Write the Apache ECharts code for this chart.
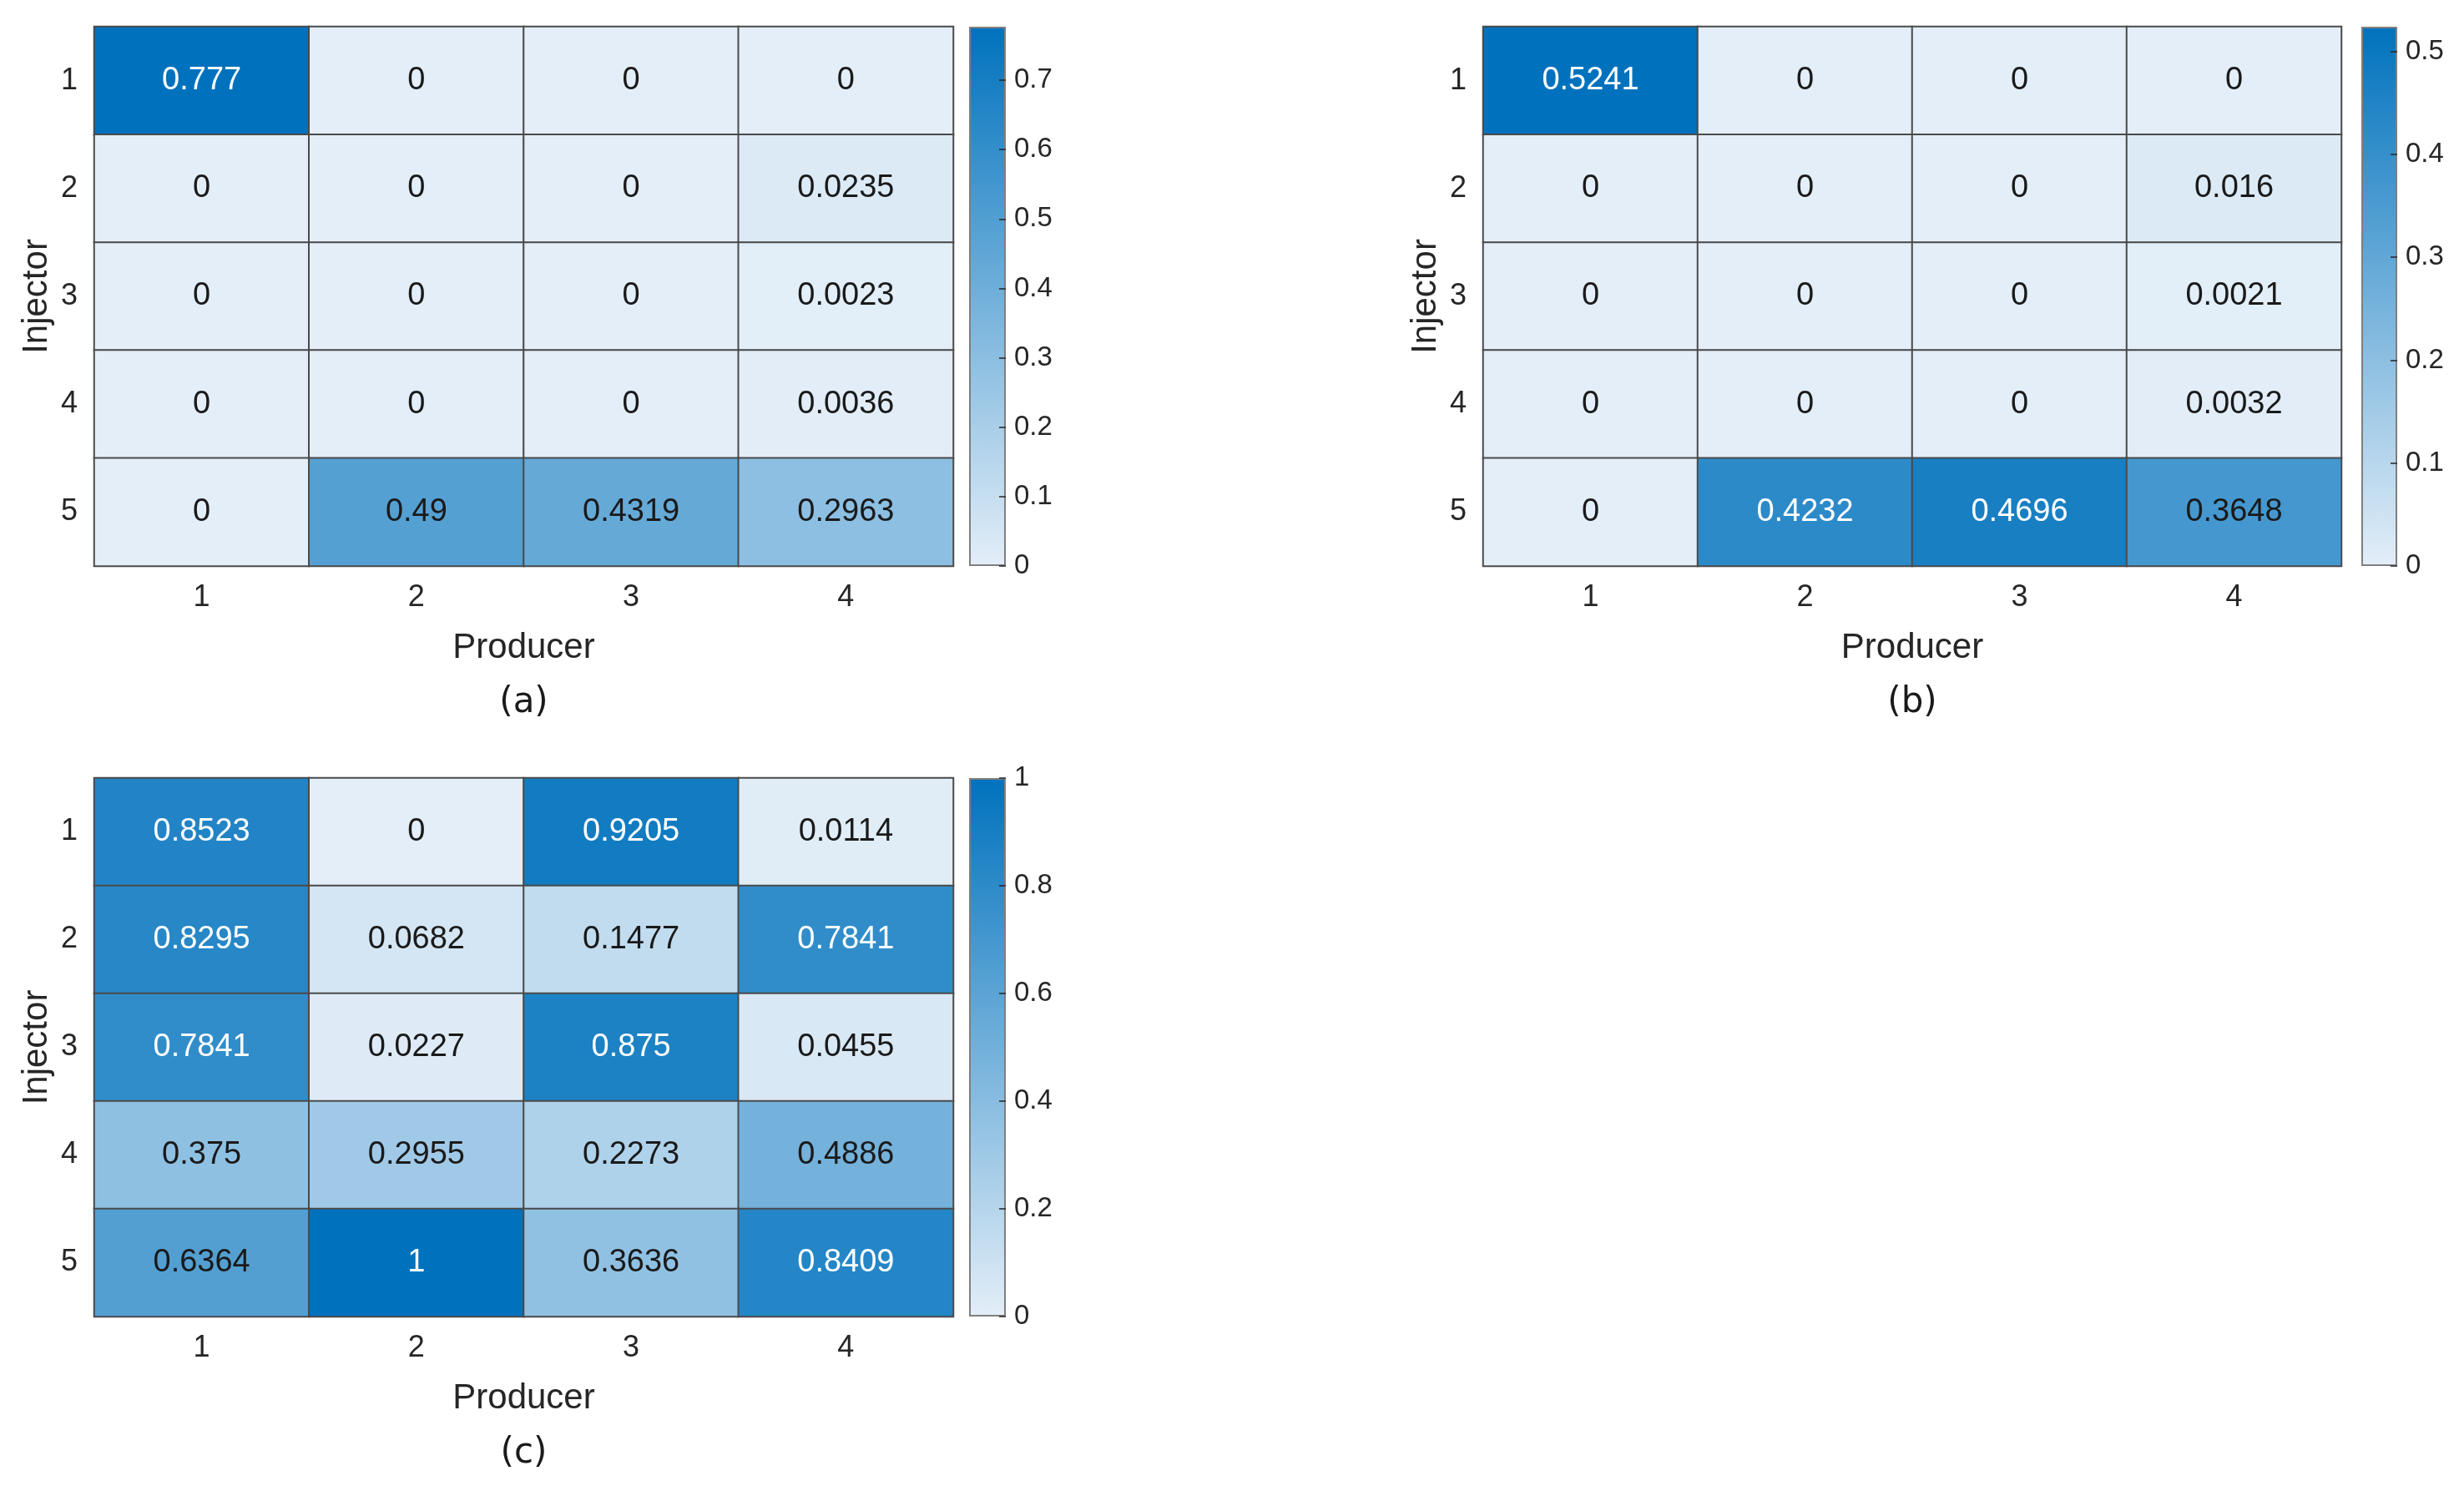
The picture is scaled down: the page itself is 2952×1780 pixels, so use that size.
<!DOCTYPE html>
<html>
<head>
<meta charset="utf-8">
<title>Injector-Producer connectivity</title>
<script src="https://cdn.jsdelivr.net/npm/echarts@6/dist/echarts.min.js"></script>
<style>
  html, body { margin: 0; padding: 0; background: #fff; }
  #chart { width: 2952px; height: 1780px; }
</style>
</head>
<body>
<div id="chart"></div>
<script>
// categories
const producers = ['1', '2', '3', '4'];
const injectors = ['1', '2', '3', '4', '5'];

// values, one row per injector, one column per producer
const valuesA = [
  [0.777, 0, 0, 0],
  [0, 0, 0, 0.0235],
  [0, 0, 0, 0.0023],
  [0, 0, 0, 0.0036],
  [0, 0.49, 0.4319, 0.2963]
];
const valuesB = [
  [0.5241, 0, 0, 0],
  [0, 0, 0, 0.016],
  [0, 0, 0, 0.0021],
  [0, 0, 0, 0.0032],
  [0, 0.4232, 0.4696, 0.3648]
];
const valuesC = [
  [0.8523, 0, 0.9205, 0.0114],
  [0.8295, 0.0682, 0.1477, 0.7841],
  [0.7841, 0.0227, 0.875, 0.0455],
  [0.375, 0.2955, 0.2273, 0.4886],
  [0.6364, 1, 0.3636, 0.8409]
];

// colorbar tick steps
const cbarSteps = [0.1, 0.1, 0.2];
const panelLetters = ['(a)', '(b)', '(c)'];

const LIGHT = '#e3eef8';
const DARK = '#0072bd';
const FONT = '"Liberation Sans", Arial, sans-serif';

// panel placement (pixels)
const panels = [
  { values: valuesA, left: 113, top: 32, w: 1029, h: 646, cbLeft: 1161, cbW: 44 },
  { values: valuesB, left: 1777, top: 32, w: 1028, h: 646, cbLeft: 2829, cbW: 43 },
  { values: valuesC, left: 113, top: 932, w: 1029, h: 645, cbLeft: 1161, cbW: 44 }
];

const chart = echarts.init(document.getElementById('chart'));

const grid = [], xAxis = [], yAxis = [], series = [], visualMap = [], graphic = [];

panels.forEach((p, i) => {
  const maxVal = Math.max(...p.values.flat());
  // is the top of the colorbar on a tick step?
  const ratio = maxVal / cbarSteps[i];
  const maxOnTick = Math.abs(ratio - Math.round(ratio)) < 1e-6;

  // heatmap grid
  grid.push({ left: p.left, top: p.top, width: p.w, height: p.h });
  // colorbar grid
  grid.push({ left: p.cbLeft, top: p.top, width: p.cbW, height: p.h });

  xAxis.push({
    type: 'category', gridIndex: i * 2, data: producers,
    axisTick: { show: false }, axisLine: { show: false },
    axisLabel: { fontSize: 36, color: '#262626', margin: 20, fontFamily: FONT },
    name: 'Producer', nameLocation: 'middle', nameGap: 77,
    nameTextStyle: { fontSize: 42, color: '#262626', fontFamily: FONT }
  });
  xAxis.push({ type: 'category', gridIndex: i * 2 + 1, data: [''], show: false });

  yAxis.push({
    type: 'category', gridIndex: i * 2, data: injectors, inverse: true,
    axisTick: { show: false }, axisLine: { show: false },
    axisLabel: { fontSize: 36, color: '#262626', margin: 20, fontFamily: FONT },
    name: 'Injector', nameLocation: 'middle', nameGap: 48, nameRotate: 90,
    nameTextStyle: { fontSize: 42, color: '#262626', fontFamily: FONT }
  });
  yAxis.push({
    type: 'value', gridIndex: i * 2 + 1, position: 'right', z: 5,
    min: 0, max: maxVal, interval: cbarSteps[i],
    splitLine: { show: false },
    axisLine: { show: false },
    axisTick: { show: true, inside: true, length: 8, lineStyle: { color: '#262626', width: 1.5 } },
    axisLabel: {
      fontSize: 33, color: '#262626', margin: 10, fontFamily: FONT,
      showMaxLabel: maxOnTick
    }
  });

  // cells
  const data = [];
  p.values.forEach((row, r) => {
    row.forEach((v, c) => {
      data.push({
        value: [c, r, v],
        label: { color: v / maxVal > 0.75 ? '#ffffff' : '#1a1a1a' }
      });
    });
  });

  series.push({
    type: 'heatmap', xAxisIndex: i * 2, yAxisIndex: i * 2, data: data,
    itemStyle: { borderColor: '#4a4a4a', borderWidth: 2 },
    label: {
      show: true, fontSize: 38, fontFamily: FONT,
      formatter: d => String(d.value[2])
    },
    emphasis: { disabled: true }
  });

  // colorbar as a single gradient bar on its own axis
  series.push({
    type: 'bar', xAxisIndex: i * 2 + 1, yAxisIndex: i * 2 + 1, z: 1,
    data: [maxVal], barWidth: '100%', silent: true,
    itemStyle: {
      color: new echarts.graphic.LinearGradient(0, 0, 0, 1, [
        { offset: 0, color: DARK }, { offset: 1, color: LIGHT }
      ]),
      borderColor: '#7f7f7f', borderWidth: 2
    }
  });

  visualMap.push({
    show: false, seriesIndex: i * 2, dimension: 2,
    min: 0, max: maxVal, inRange: { color: [LIGHT, DARK] }
  });

  graphic.push({
    type: 'text', x: p.left + p.w / 2, y: p.top + p.h + 164,
    style: {
      text: panelLetters[i], align: 'center', verticalAlign: 'middle',
      font: '42px "DejaVu Sans", sans-serif', fill: '#1a1a1a'
    }
  });
});

chart.setOption({
  backgroundColor: '#ffffff',
  animation: false,
  grid: grid,
  xAxis: xAxis,
  yAxis: yAxis,
  visualMap: visualMap,
  series: series,
  graphic: graphic
});
</script>
</body>
</html>
